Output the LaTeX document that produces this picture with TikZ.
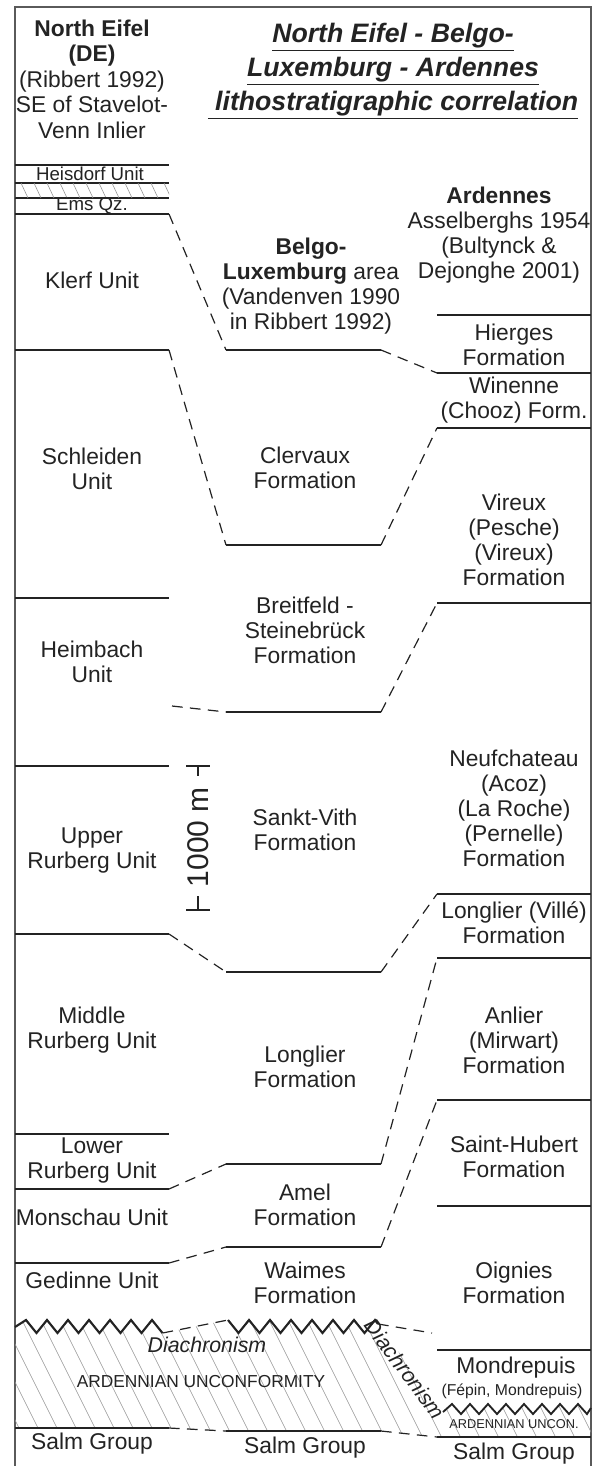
\documentclass[tikz,border=0pt]{standalone}
\usepackage{fontspec}
\setmainfont{Liberation Sans}
\begin{document}
\begin{tikzpicture}[x=0.75pt,y=-0.75pt]
\definecolor{ink}{RGB}{35,35,35}
\definecolor{hatchc}{RGB}{150,150,150}
\tikzset{
 lbl/.style={font=\fontsize{17.1}{18.75}\selectfont, align=center, inner sep=0pt, text=ink},
 sml/.style={font=\fontsize{14}{15}\selectfont, align=center, inner sep=0pt, text=ink},
 bnd/.style={line width=2pt, draw=ink},
 dsh/.style={line width=0.9pt, draw=ink, dash pattern=on 8pt off 5.5pt},
 frm/.style={line width=1.5pt, draw=ink!75},
 hat/.style={line width=0.45pt, draw=hatchc},
 zig/.style={line width=1.6pt, draw=ink, line join=miter},
}
\useasboundingbox (0,0) rectangle (593,1466);
\fill[white] (0,0) rectangle (593,1466);
% frame
\draw[frm] (15,1466) -- (15,7) -- (591,7) -- (591,1466);

% titles
\node[font=\fontsize{20}{25.5}\selectfont\bfseries\itshape, align=center, text=ink, inner sep=0pt] (title) at (393,71)
 {\underline{North Eifel - Belgo-}\\ \underline{Luxemburg - Ardennes}\\ \underline{\ lithostratigraphic correlation}};
\node[lbl, font=\fontsize{17.1}{19.1}\selectfont] (hdL) at (92,79)
 {\textbf{North Eifel}\\\textbf{(DE)}\\(Ribbert 1992)\\SE of Stavelot-\\Venn Inlier};
\node[lbl] (hdM) at (311,286)
 {\textbf{Belgo-}\\\textbf{Luxemburg} area\\(Vandenven 1990\\in Ribbert 1992)};
\node[lbl] (hdR) at (499,235)
 {\textbf{Ardennes}\\Asselberghs 1954\\(Bultynck \&\\Dejonghe 2001)};

% ---------- left column boundaries
\foreach \y/\n in {165/a,183/b,198/c,214/d,350/e,598/f,766/g,934/h,1134/i,1189/j,1263/k}{
  \coordinate (L\n-w) at (15,\y);
  \coordinate (L\n-e) at (169,\y);
  \draw[bnd] (L\n-w) -- (L\n-e);
}
% Heisdorf hatch band
\begin{scope}
 \clip (15,183) rectangle (169,198);
 \foreach \i in {8,21,...,180} \draw[hat] (\i,183) -- ++(7,15);
\end{scope}
\node[sml] (heis) at (90,174) {Heisdorf Unit};
\node[sml] (ems) at (92,206) {Ems Qz.};
\node[lbl] (klerf) at (92,280) {Klerf Unit};
\node[lbl] (schl) at (92,469) {Schleiden\\Unit};
\node[lbl] (heim) at (92,662) {Heimbach\\Unit};
\node[lbl] (upr) at (92,851) {Upper\\Rurberg Unit};
\node[lbl] (mid) at (92,1030) {Middle\\Rurberg Unit};
\node[lbl] (lwr) at (92,1161) {Lower\\Rurberg Unit};
\node[lbl] (mon) at (92,1217) {Monschau Unit};
\node[lbl] (ged) at (92,1280) {Gedinne Unit};

% ---------- middle column boundaries
\foreach \y/\n in {350/a,545/b,712/c,972/d,1164/e,1247/f}{
  \coordinate (M\n-w) at (226,\y);
  \coordinate (M\n-e) at (381,\y);
  \draw[bnd] (M\n-w) -- (M\n-e);
}
\node[lbl] (clv) at (305,468) {Clervaux\\Formation};
\node[lbl] (brt) at (305,630) {Breitfeld -\\Steinebrück\\Formation};
\node[lbl] (skv) at (305,830) {Sankt-Vith\\Formation};
\node[lbl] (lgl) at (305,1067) {Longlier\\Formation};
\node[lbl] (aml) at (305,1205) {Amel\\Formation};
\node[lbl] (wms) at (305,1283) {Waimes\\Formation};

% ---------- right column boundaries
\foreach \y/\n in {315/a,373/b,428/c,603/d,894/e,958/f,1100/g,1206/h,1350/i}{
  \coordinate (R\n-w) at (437,\y);
  \coordinate (R\n-e) at (591,\y);
  \draw[bnd] (R\n-w) -- (R\n-e);
}
\node[lbl] (hrg) at (514,345) {Hierges\\Formation};
\node[lbl] (wnn) at (514,400) {Winenne\\(Chooz) Form.};
\node[lbl] (vrx) at (514,540) {Vireux\\(Pesche)\\(Vireux)\\Formation};
\node[lbl] (nfc) at (514,808) {Neufchateau\\(Acoz)\\(La Roche)\\(Pernelle)\\Formation};
\node[lbl] (lgv) at (514,923) {Longlier (Villé)\\Formation};
\node[lbl] (anl) at (514,1040) {Anlier\\(Mirwart)\\Formation};
\node[lbl] (sth) at (514,1157) {Saint-Hubert\\Formation};
\node[lbl] (oig) at (514,1283) {Oignies\\Formation};
\node[lbl] (mdp) at (516,1368) {Mondrepuis};
\node[font=\fontsize{11.8}{13}\selectfont, inner sep=0pt, text=ink] (fep) at (512,1391) {(Fépin, Mondrepuis)};

% ---------- dashed correlations
\draw[dsh] (Ld-e) -- (Ma-w);
\draw[dsh] (Ma-e) -- (Rb-w);
\draw[dsh] (Le-e) -- (Mb-w);
\draw[dsh] (Mb-e) -- (Rc-w);
\coordinate (hfree) at (172,706);
\draw[dsh] (hfree) -- (Mc-w);
\draw[dsh] (Mc-e) -- (Rd-w);
\draw[dsh] (Lh-e) -- (Md-w);
\draw[dsh] (Md-e) -- (Re-w);
\draw[dsh] (Me-e) -- (Rf-w);
\draw[dsh] (Lj-e) -- (Me-w);
\draw[dsh] (Mf-e) -- (Rg-w);
\draw[dsh] (Lk-e) -- (Mf-w);

% ---------- unconformity
\coordinate (zL0) at (15,1327);
\coordinate (zL1) at (162.5,1333);
\coordinate (zM0) at (228,1320);
\coordinate (zM1) at (378,1324);
\coordinate (zR0) at (443,1412);
\coordinate (zR1) at (591,1408);
\coordinate (sL0) at (15,1428);  \coordinate (sL1) at (169,1428);
\coordinate (sM0) at (226,1431); \coordinate (sM1) at (381,1431);
\coordinate (sR0) at (437,1437); \coordinate (sR1) at (591,1437);
\coordinate (zfree) at (432,1333);

\begin{scope}
 \clip (zL0) \foreach \k in {0,...,6}{ -- ({26+21*\k},1320) -- ({36.5+21*\k},1333) }
   -- (zM0) \foreach \k in {0,...,6}{ -- ({238.5+21*\k},1333) -- ({249+21*\k},1320) }
   -- (zR0) \foreach \k in {0,...,7}{ -- ({452+18*\k},1404) -- ({461+18*\k},1414) }
   -- (zR1) -- (sR1) -- (sR0) -- (sM1) -- (sM0) -- (sL1) -- (sL0) -- cycle;
 \foreach \i in {-140,-121,...,620} \draw[hat] (\i,1300) -- ++(72,144);
\end{scope}

\draw[zig] (zL0) \foreach \k in {0,...,6}{ -- ({26+21*\k},1320) -- ({36.5+21*\k},1333) };
\draw[zig] (zM0) \foreach \k in {0,...,6}{ -- ({238.5+21*\k},1333) -- ({249+21*\k},1320) } -- (zM1);
\draw[zig, line width=1.4pt] (zR0) \foreach \k in {0,...,7}{ -- ({452+18*\k},1404) -- ({461+18*\k},1414) } -- (zR1);
\draw[dsh] (zL1) -- (zM0);
\draw[dsh] (zM1) -- (zfree);

\draw[bnd] (sL0) -- (sL1);
\draw[bnd] (sM0) -- (sM1);
\draw[bnd] (sR0) -- (sR1);
\draw[dsh] (sL1) -- (sM0);
\draw[dsh] (sM1) -- (sR0);

\node[lbl, font=\fontsize{16}{18}\selectfont\itshape] (dia1) at (207,1345) {Diachronism};
\node[lbl, font=\fontsize{16}{18}\selectfont\itshape, rotate=-53.5] (dia2) at (405,1369) {Diachronism};
\node[lbl, font=\fontsize{13}{15}\selectfont] (ardu) at (201,1382) {ARDENNIAN UNCONFORMITY};
\node[lbl, font=\fontsize{9.6}{11}\selectfont] (ardr) at (514,1424) {ARDENNIAN UNCON.};

\node[lbl] (salmL) at (92,1444) {Salm Group};
\node[lbl] (salmM) at (305,1448) {Salm Group};
\node[lbl] (salmR) at (514,1454) {Salm Group};

% ---------- scale bar
\coordinate (sbT) at (198,766);
\coordinate (sbB) at (198,910);
\draw[line width=1.5pt, draw=ink] (186,766) -- (210,766) (sbT) -- (198,776);
\draw[line width=1.5pt, draw=ink] (186,910) -- (210,910) (sbB) -- (198,896);
\node[lbl, font=\fontsize{22.5}{24}\selectfont, rotate=90] (sbl) at (198,837) {1000 m};
\end{tikzpicture}
\end{document}
